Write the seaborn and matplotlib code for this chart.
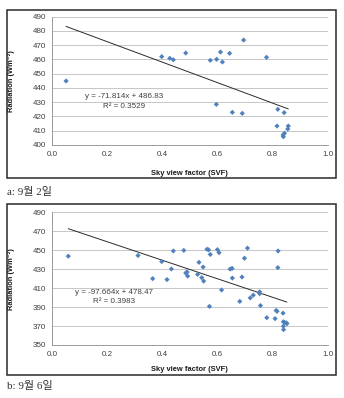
import numpy as np
import pandas as pd
import matplotlib
matplotlib.use("Agg")
import matplotlib.pyplot as plt
import matplotlib.patches as patches
import seaborn as sns

# panel a: 9월 2일
svf_a = [0.051, 0.398, 0.427, 0.440, 0.485, 0.574, 0.597, 0.611, 0.618, 0.644,
         0.695, 0.596, 0.654, 0.690, 0.778, 0.819, 0.842, 0.816, 0.857, 0.855,
         0.843, 0.838, 0.839]
rad_a = [444.9, 462.0, 460.8, 459.8, 464.5, 459.4, 460.1, 465.2, 458.2, 464.3,
         473.6, 428.5, 422.9, 422.2, 461.5, 425.0, 422.7, 413.3, 413.3, 411.2,
         408.2, 407.0, 405.8]
fit_a = (-71.814, 486.83)
r2_a = 0.3529

# panel b: 9월 6일
svf_b = [0.059, 0.312, 0.365, 0.398, 0.417, 0.433, 0.440, 0.478, 0.485, 0.490,
         0.492, 0.528, 0.533, 0.543, 0.548, 0.550, 0.562, 0.568, 0.574, 0.571,
         0.600, 0.606, 0.615, 0.646, 0.653, 0.654, 0.681, 0.689, 0.698, 0.709,
         0.719, 0.730, 0.753, 0.753, 0.756, 0.779, 0.809, 0.813, 0.816, 0.819,
         0.820, 0.838, 0.839, 0.844, 0.850, 0.852, 0.839, 0.840]
rad_b = [443.7, 444.4, 420.0, 438.0, 419.0, 430.2, 449.2, 449.8, 425.9, 427.0,
         422.7, 424.5, 437.2, 421.0, 432.2, 417.4, 451.0, 450.4, 445.5, 390.7,
         450.6, 447.4, 408.0, 430.1, 430.8, 420.6, 396.0, 421.7, 441.5, 452.2,
         399.7, 402.6, 406.1, 404.2, 391.6, 378.8, 377.8, 386.5, 385.5, 431.6,
         449.2, 383.6, 374.5, 373.7, 373.3, 372.5, 369.8, 366.2]
fit_b = (-97.664, 478.47)
r2_b = 0.3983

yticks_a = [400, 410, 420, 430, 440, 450, 460, 470, 480, 490]
yticks_b = [350, 370, 390, 410, 430, 450, 470, 490]
xticks = [0.0, 0.2, 0.4, 0.6, 0.8, 1.0]
captions = ["a: 9월 2일", "b: 9월 6일"]

sns.set_style("white")
plt.rcParams["font.family"] = ["Liberation Sans", "DejaVu Sans", "Noto Sans CJK KR"]

fig = plt.figure(figsize=(3.44, 3.98), dpi=100)
fig.patch.set_facecolor("white")


def draw_panel(ax, svf, rad, fit, r2, yticks, text_xy, xlabel_y):
    df = pd.DataFrame({"svf": svf, "rad": rad})
    xs = np.array([min(svf), max(svf)])
    line = pd.DataFrame({"svf": xs, "rad": fit[0] * xs + fit[1]})
    sns.lineplot(data=line, x="svf", y="rad", ax=ax, color="#2b2b2b",
                 linewidth=0.7, zorder=3)
    sns.scatterplot(data=df, x="svf", y="rad", ax=ax, marker="D", s=7,
                    color="#4f81bd", edgecolor="none", zorder=4)
    ax.set_xlim(0, 1.0)
    ax.set_ylim(yticks[0], yticks[-1])
    ax.set_xticks(xticks)
    ax.set_xticklabels([f"{t:.1f}" for t in xticks])
    ax.set_yticks(yticks)
    ax.grid(True, axis="y", color="#bdbdbd", linewidth=0.6)
    ax.set_axisbelow(True)
    for side in ["top", "right"]:
        ax.spines[side].set_visible(False)
    for side in ["left", "bottom"]:
        ax.spines[side].set_color("#8a8a8a")
        ax.spines[side].set_linewidth(0.6)
    ax.tick_params(axis="both", direction="out", length=2.5, width=0.6,
                   color="#8a8a8a", labelsize=5.8, labelcolor="#404040", pad=2)
    ax.set_xlabel("Sky view factor (SVF)", fontsize=5.4, fontweight="bold",
                  color="#1a1a1a")
    ax.set_ylabel("Radiation (Wm⁻²)", fontsize=5.4, fontweight="bold",
                  color="#1a1a1a")
    ax.xaxis.set_label_coords(0.5, xlabel_y)
    ax.yaxis.set_label_coords(-0.134, 0.5)
    ax.text(text_xy[0], text_xy[1], f"y = {fit[0]}x + {fit[1]}", fontsize=5.8,
            color="#404040", ha="center", va="center")
    ax.text(text_xy[0], text_xy[2], f"R² = {r2}", fontsize=5.8,
            color="#404040", ha="center", va="center")


ax_a = fig.add_axes([0.1512, 0.6357, 0.8015, 0.3224])
draw_panel(ax_a, svf_a, rad_a, fit_a, r2_a, yticks_a, (0.262, 433.7, 426.9), -0.195)

ax_b = fig.add_axes([0.1512, 0.1332, 0.8015, 0.3334])
draw_panel(ax_b, svf_b, rad_b, fit_b, r2_b, yticks_b, (0.225, 405.0, 395.5), -0.157)

# panel frames
for (y0, y1) in [(0.5528, 0.9749), (0.0578, 0.4874)]:
    fig.add_artist(patches.Rectangle((0.0203, y0), 0.9564, y1 - y0,
                                     transform=fig.transFigure, fill=False,
                                     edgecolor="#2a2a2a", linewidth=1.1))

cap_family = ["Liberation Serif", "Noto Sans CJK KR"]
fig.text(0.0203, 1 - 192 / 398, captions[0], fontsize=8, color="#333333",
         ha="left", va="center", family=cap_family)
fig.text(0.0203, 1 - 386 / 398, captions[1], fontsize=8, color="#333333",
         ha="left", va="center", family=cap_family)

fig.savefig("out.png", dpi=100, facecolor="white")
